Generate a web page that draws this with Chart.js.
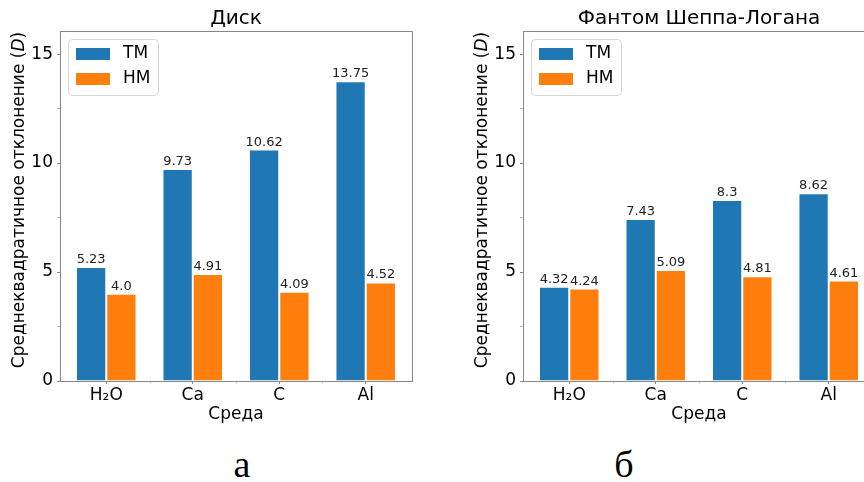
<!DOCTYPE html>
<html>
<head>
<meta charset="utf-8">
<script src="https://cdn.jsdelivr.net/npm/chart.js@4"></script>
<style>
  body { margin: 0; background: #fff; }
  #wrap { position: relative; width: 864px; height: 482px; overflow: hidden; background: #fff; }
  canvas { position: absolute; top: 0; }
  #c1 { left: 0; }
  #c2 { left: 463px; }
  .sub { position: absolute; top: 445px; font-family: "Liberation Serif", serif; font-size: 38px; line-height: 38px; transform: translateX(-50%); color: #000; }
</style>
</head>
<body>
<div id="wrap">
  <canvas id="c1" width="432" height="440"></canvas>
  <canvas id="c2" width="432" height="440"></canvas>
  <div class="sub" style="left:242px">а</div>
  <div class="sub" style="left:624px">б</div>
</div>
<script>
const categories = ['H₂O', 'Ca', 'C', 'Al'];
const seriesNames = ['ТМ', 'НМ'];
const diskTM = [5.23, 9.73, 10.62, 13.75];
const diskHM = [4.0, 4.91, 4.09, 4.52];
const phantomTM = [4.32, 7.43, 8.3, 8.62];
const phantomHM = [4.24, 5.09, 4.81, 4.61];
const yTicks = [0, 5, 10, 15];
const yMinor = [2.5, 7.5, 12.5];
const xMinor = [0.5, 1.5, 2.5];

const FONT = 'DejaVu Sans';
const SPINE = '#888';
const colors = ['#1f77b4', '#ff7f0e'];

const fmt = v => Number.isInteger(v) ? v.toFixed(1) : String(v);

// подписи, легенда, рамка, заголовок
const extras = {
  id: 'extras',
  afterDatasetsDraw(chart, args, opts) {
    const { ctx, chartArea: a } = chart;
    ctx.save();

    // values above bars
    ctx.font = `13px ${FONT}`;
    ctx.fillStyle = '#222';
    ctx.textAlign = 'center';
    ctx.textBaseline = 'alphabetic';
    chart.data.datasets.forEach((ds, di) => {
      chart.getDatasetMeta(di).data.forEach((el, i) => {
        ctx.fillText(fmt(ds.data[i].y), el.x, el.y - 4);
      });
    });

    // top/right spines
    ctx.strokeStyle = SPINE;
    ctx.lineWidth = 1;
    ctx.beginPath();
    ctx.moveTo(a.left, a.top + 0.5);
    ctx.lineTo(a.right + 0.5, a.top + 0.5);
    ctx.lineTo(a.right + 0.5, a.bottom);
    ctx.stroke();

    // minor x ticks between groups
    ctx.lineWidth = 0.6;
    xMinor.forEach(v => {
      const px = Math.round(chart.scales.x.getPixelForValue(v)) + 0.5;
      ctx.beginPath();
      ctx.moveTo(px, a.bottom);
      ctx.lineTo(px, a.bottom + 2);
      ctx.stroke();
    });
    ctx.lineWidth = 1;

    // legend
    const lx = a.left + 8, ly = a.top + 8, lw = 90, lh = 56;
    ctx.fillStyle = 'rgba(255,255,255,0.8)';
    ctx.strokeStyle = '#d6d6d6';
    ctx.beginPath();
    ctx.roundRect(lx + 0.5, ly + 0.5, lw, lh, 4);
    ctx.fill();
    ctx.stroke();
    ctx.font = `17px ${FONT}`;
    ctx.textAlign = 'left';
    ctx.textBaseline = 'middle';
    chart.data.datasets.forEach((ds, di) => {
      const cy = ly + 15 + di * 25;
      ctx.fillStyle = ds.backgroundColor;
      ctx.fillRect(lx + 8, cy - 6, 34, 12);
      ctx.fillStyle = '#000';
      ctx.fillText(ds.label, lx + 55, cy);
    });

    // title
    ctx.font = `20px ${FONT}`;
    ctx.textAlign = 'center';
    ctx.textBaseline = 'alphabetic';
    ctx.fillText(opts.title, (a.left + a.right) / 2, 24);

    // y label with italic D
    const p1 = 'Среднеквадратичное отклонение (', p2 = 'D', p3 = ')';
    ctx.font = `17px ${FONT}`;
    const w1 = ctx.measureText(p1).width, w3 = ctx.measureText(p3).width;
    ctx.font = `italic 17px ${FONT}`;
    const w2 = ctx.measureText(p2).width;
    const total = w1 + w2 + w3;
    ctx.translate(20, 200);
    ctx.rotate(-Math.PI / 2);
    ctx.textAlign = 'left';
    ctx.textBaseline = 'middle';
    let x = -total / 2;
    ctx.font = `17px ${FONT}`;
    ctx.fillText(p1, x, 0); x += w1;
    ctx.font = `italic 17px ${FONT}`;
    ctx.fillText(p2, x, 0); x += w2;
    ctx.font = `17px ${FONT}`;
    ctx.fillText(p3, x, 0);
    ctx.restore();
  }
};

function makeChart(id, title, tm, hm) {
  const toPts = arr => arr.map((v, i) => ({ x: i, y: v }));
  new Chart(document.getElementById(id), {
    type: 'bar',
    data: {
      datasets: [
        { label: seriesNames[0], data: toPts(tm), backgroundColor: colors[0], borderColor: '#fff', borderWidth: 1 },
        { label: seriesNames[1], data: toPts(hm), backgroundColor: colors[1], borderColor: '#fff', borderWidth: 1 }
      ]
    },
    options: {
      responsive: false,
      animation: false,
      devicePixelRatio: 1,
      categoryPercentage: 0.7,
      barPercentage: 1.0,
      layout: { padding: { top: 31, left: 0, right: 20, bottom: 0 } },
      plugins: {
        legend: { display: false },
        tooltip: { enabled: false },
        extras: { title }
      },
      scales: {
        x: {
          type: 'linear',
          min: -0.535,
          max: 3.535,
          offset: false,
          afterBuildTicks: s => {
            s.ticks = categories.map((c, i) => ({ value: i }));
          },
          afterFit: s => { s.height = 59; },
          ticks: {
            autoSkip: false,
            maxRotation: 0,
            padding: 1,
            color: '#000',
            font: { family: FONT, size: 17 },
            callback: v => categories[v]
          },
          grid: {
            offset: false,
            drawOnChartArea: false,
            drawTicks: true,
            tickLength: 3,
            tickColor: SPINE
          },
          border: { display: true, color: SPINE, width: 1 },
          title: {
            display: true,
            text: 'Среда',
            color: '#000',
            font: { family: FONT, size: 17 },
            padding: { top: 0, bottom: 15 }
          }
        },
        y: {
          min: 0,
          max: 16.06,
          afterBuildTicks: s => {
            s.ticks = [...yTicks, ...yMinor].sort((a, b) => a - b).map(v => ({ value: v }));
          },
          afterFit: s => { s.width = 60; },
          ticks: {
            autoSkip: false,
            padding: 4,
            color: '#000',
            font: { family: FONT, size: 17 },
            callback: v => yTicks.includes(v) ? v : ''
          },
          grid: {
            drawOnChartArea: false,
            drawTicks: true,
            tickLength: 3,
            tickColor: SPINE,
            tickWidth: c => yTicks.includes(c.tick.value) ? 1 : 0.6
          },
          border: { display: true, color: SPINE, width: 1 }
        }
      }
    },
    plugins: [extras]
  });
}

makeChart('c1', 'Диск', diskTM, diskHM);
makeChart('c2', 'Фантом Шеппа-Логана', phantomTM, phantomHM);
</script>
</body>
</html>
